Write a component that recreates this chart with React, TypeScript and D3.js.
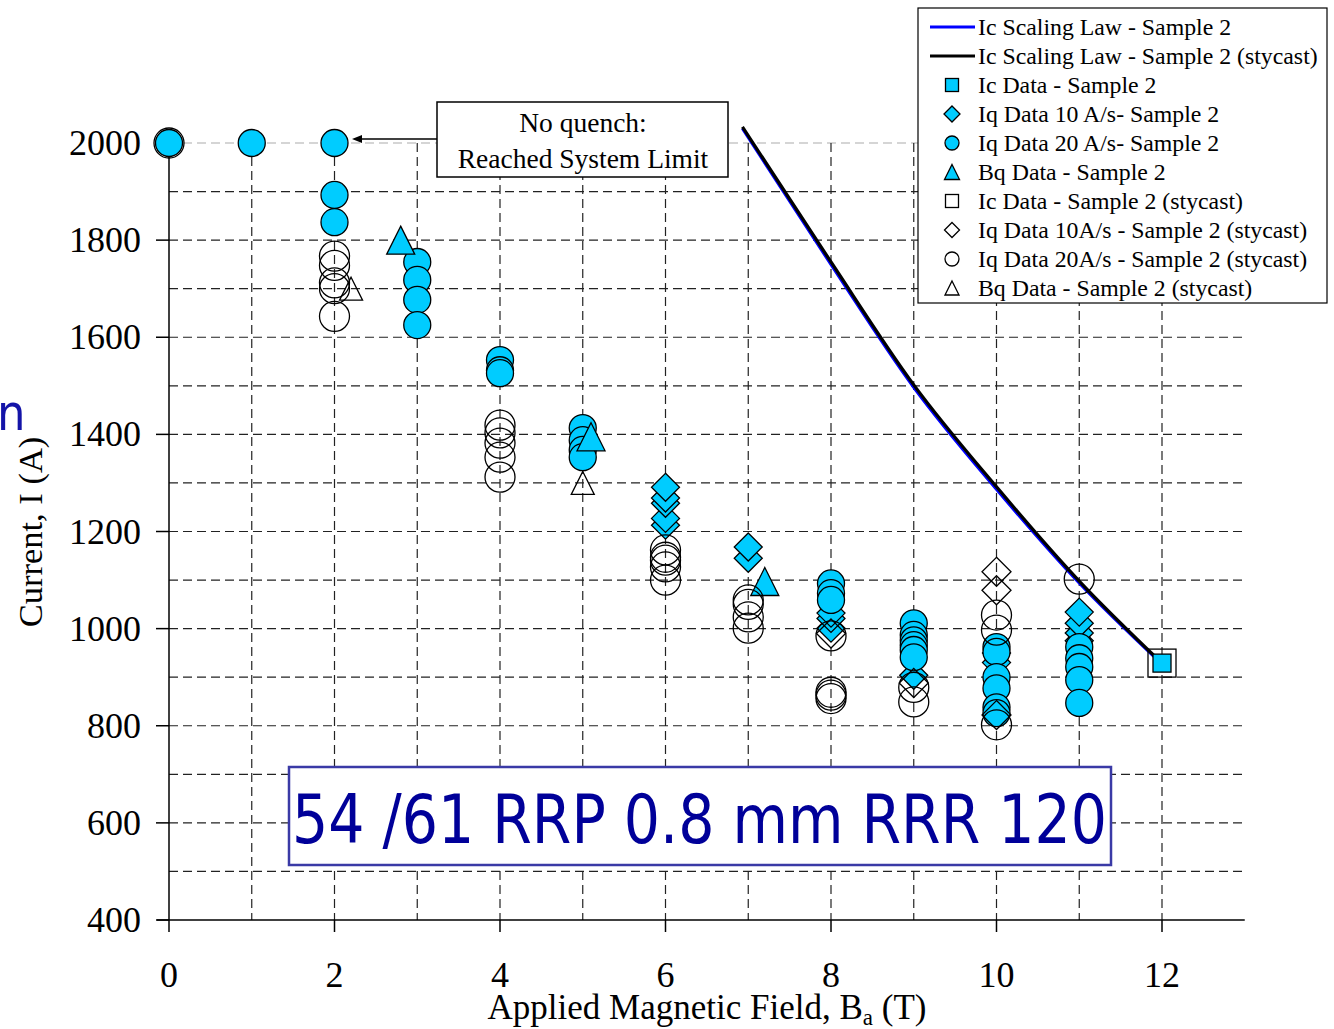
import React from "react";
import * as d3 from "d3";

const W = 1334;
const H = 1029;

// Scaling law curves
const lawB = [6.93, 8, 9, 10, 11, 12];
const lawBlue = [2030, 1750, 1497, 1287, 1094, 927];
const lawBlack = [2033, 1755, 1502, 1292, 1098, 929];

// Ic Data - Sample 2 (cyan square)
const icB = [12];
const icI = [929];

// Iq Data 10 A/s - Sample 2 (cyan diamonds)
const iq10B = [6, 6, 6, 6, 6, 7, 7, 8, 8, 8, 9, 10, 10, 11, 11, 11, 11];
const iq10I = [1213, 1227, 1258, 1269, 1291, 1145, 1168, 1001, 1021, 1032, 904, 930, 950, 975, 991, 1011, 1034];

// Iq Data 20 A/s - Sample 2 (cyan circles)
const iq20B = [0, 1, 2, 2, 2, 3, 3, 3, 3, 4, 4, 4, 5, 5, 5, 5, 8, 8, 8, 9, 9, 9, 9, 9, 9, 10, 10, 10, 10, 10, 10, 11, 11, 11, 11, 11];
const iq20I = [2000, 2000, 2000, 1893, 1837, 1755, 1718, 1677, 1625, 1553, 1532, 1526, 1413, 1388, 1368, 1353, 1093, 1073, 1059, 1011, 987, 976, 966, 956, 941, 962, 952, 900, 877, 838, 826, 962, 939, 921, 894, 847];

// Bq Data - Sample 2 (cyan triangles)
const bqB = [2.8, 5.1, 7.2];
const bqI = [1800, 1395, 1097];

// stycast series (open markers)
const sIcB = [12];
const sIcI = [929];
const sIq10B = [8, 9, 10, 10, 10];
const sIq10I = [990, 888, 1117, 1079, 822];
const sIq20B = [0, 2, 2, 2, 2, 2, 4, 4, 4, 4, 4, 6, 6, 6, 6, 6, 7, 7, 7, 7, 8, 8, 8, 8, 9, 9, 10, 10, 10, 11];
const sIq20I = [2000, 1767, 1748, 1712, 1700, 1643, 1419, 1403, 1382, 1353, 1312, 1162, 1147, 1141, 1127, 1100, 1059, 1050, 1024, 1001, 985, 869, 863, 856, 879, 849, 1028, 997, 802, 1102];
const sBqB = [2.2, 5];
const sBqI = [1700, 1300];

const xTicks = [0, 2, 4, 6, 8, 10, 12];
const yTicks = [400, 600, 800, 1000, 1200, 1400, 1600, 1800, 2000];
const xGrid = [1, 2, 3, 4, 5, 6, 7, 8, 9, 10, 11, 12];
const yGrid = [500, 600, 700, 800, 900, 1000, 1100, 1200, 1300, 1400, 1500, 1600, 1700, 1800, 1900];

const legendLabels = [
  "Ic Scaling Law - Sample 2",
  "Ic Scaling Law - Sample 2 (stycast)",
  "Ic Data - Sample 2",
  "Iq Data 10 A/s- Sample 2",
  "Iq Data 20 A/s- Sample 2",
  "Bq Data - Sample 2",
  "Ic Data - Sample 2 (stycast)",
  "Iq Data 10A/s - Sample 2 (stycast)",
  "Iq Data 20A/s - Sample 2 (stycast)",
  "Bq Data - Sample 2 (stycast)",
];

const CYAN = "#00CCFF";
const SERIF = "'Liberation Serif', 'Times New Roman', serif";

const x = d3.scaleLinear().domain([0, 13]).range([169, 1244.75]);
const y = d3.scaleLinear().domain([400, 2000]).range([920, 143]);

type Shape = "circle" | "diamond" | "triangle" | "square";

function Marker({ cx, cy, shape, size, fill }: { cx: number; cy: number; shape: Shape; size: number; fill: string }) {
  const stroke = "#000";
  const sw = 1.3;
  if (shape === "circle") return <circle cx={cx} cy={cy} r={size} fill={fill} stroke={stroke} strokeWidth={sw} />;
  if (shape === "square")
    return <rect x={cx - size} y={cy - size} width={size * 2} height={size * 2} fill={fill} stroke={stroke} strokeWidth={sw} />;
  if (shape === "diamond") {
    const p = [[cx, cy - size], [cx + size, cy], [cx, cy + size], [cx - size, cy]];
    return <polygon points={p.map((q) => q.join(",")).join(" ")} fill={fill} stroke={stroke} strokeWidth={sw} />;
  }
  const p = [[cx, cy - size], [cx + size, cy + size], [cx - size, cy + size]];
  return <polygon points={p.map((q) => q.join(",")).join(" ")} fill={fill} stroke={stroke} strokeWidth={sw} />;
}

function Series({ bs, is, shape, size, fill }: { bs: number[]; is: number[]; shape: Shape; size: number; fill: string }) {
  return (
    <g>
      {bs.map((b, i) => (
        <Marker key={i} cx={x(b)} cy={y(is[i])} shape={shape} size={size} fill={fill} />
      ))}
    </g>
  );
}

export default function App() {
  const line = d3
    .line<number>()
    .x((_, i) => x(lawB[i]))
    .y((d) => y(d))
    .curve(d3.curveMonotoneX);

  const legendY = (i: number) => 27 + i * 29.0;
  const legendMarkers: { shape: Shape; size: number; fill: string }[] = [
    { shape: "square", size: 6.5, fill: CYAN },
    { shape: "diamond", size: 8, fill: CYAN },
    { shape: "circle", size: 7, fill: CYAN },
    { shape: "triangle", size: 7.5, fill: CYAN },
    { shape: "square", size: 6.5, fill: "none" },
    { shape: "diamond", size: 7.5, fill: "none" },
    { shape: "circle", size: 7, fill: "none" },
    { shape: "triangle", size: 7, fill: "none" },
  ];

  return (
    <svg width={W} height={H} style={{ position: "absolute", left: 0, top: 0, background: "#fff" }} xmlns="http://www.w3.org/2000/svg">
      <rect x={0} y={0} width={W} height={H} fill="#fff" />
      {/* clipped title fragment */}
      <text x={-3} y={430} fontFamily="'DejaVu Sans Condensed', 'DejaVu Sans', sans-serif" fontSize={50} fill="#1414a8">
        n
      </text>

      {/* gridlines */}
      <g>
        {yGrid.map((v) => (
          <line key={v} x1={x(0)} x2={x(13)} y1={y(v)} y2={y(v)} stroke="#222" strokeWidth={1.2} strokeDasharray="9,5" />
        ))}
        <line x1={x(0)} x2={x(13)} y1={y(2000)} y2={y(2000)} stroke="#c8c8c8" strokeWidth={1.5} strokeDasharray="9,5" />
        {xGrid.map((v) => (
          <line key={v} x1={x(v)} x2={x(v)} y1={y(2000)} y2={y(400)} stroke="#222" strokeWidth={1.2} strokeDasharray="9,5" />
        ))}
      </g>

      {/* axes */}
      <g stroke="#000" strokeWidth={1.5}>
        <line x1={x(0)} x2={x(0)} y1={y(2000)} y2={y(400)} />
        <line x1={x(0) - 12} x2={x(13)} y1={y(400)} y2={y(400)} />
        {yTicks.map((v) => (
          <line key={v} x1={x(0) - 13} x2={x(0)} y1={y(v)} y2={y(v)} />
        ))}
        {xTicks.map((v) => (
          <line key={v} x1={x(v)} x2={x(v)} y1={y(400)} y2={y(400) + 12} />
        ))}
      </g>
      <g fontFamily={SERIF} fontSize={36} fill="#000">
        {yTicks.map((v) => (
          <text key={v} x={141} y={y(v) + 12} textAnchor="end">
            {v}
          </text>
        ))}
        {xTicks.map((v) => (
          <text key={v} x={x(v)} y={987} textAnchor="middle">
            {v}
          </text>
        ))}
      </g>
      <text x={707} y={1019} textAnchor="middle" fontFamily={SERIF} fontSize={35} fill="#000">
        Applied Magnetic Field, B<tspan fontSize={23} dy={6}>a</tspan>
        <tspan dy={-6}> (T)</tspan>
      </text>
      <text transform="translate(42,532) rotate(-90)" textAnchor="middle" fontFamily={SERIF} fontSize={34.5} fill="#000">
        Current, I (A)
      </text>

      {/* scaling law lines */}
      <path d={line(lawBlue) || ""} fill="none" stroke="#0000FF" strokeWidth={3.2} />
      <path d={line(lawBlack) || ""} fill="none" stroke="#000" strokeWidth={3.2} />

      {/* data */}
      <Series bs={icB} is={icI} shape="square" size={9} fill={CYAN} />
      <Series bs={iq10B} is={iq10I} shape="diamond" size={14} fill={CYAN} />
      <Series bs={iq20B} is={iq20I} shape="circle" size={13.5} fill={CYAN} />
      <Series bs={bqB} is={bqI} shape="triangle" size={14} fill={CYAN} />
      <Series bs={sIcB} is={sIcI} shape="square" size={14} fill="none" />
      <Series bs={sIq10B} is={sIq10I} shape="diamond" size={14.5} fill="none" />
      <Series bs={sIq20B} is={sIq20I} shape="circle" size={15} fill="none" />
      <Series bs={sBqB} is={sBqI} shape="triangle" size={11.5} fill="none" />

      {/* annotation */}
      <line x1={437} x2={358} y1={139} y2={139} stroke="#000" strokeWidth={1.5} />
      <polygon points="352,139 362,135 362,143" fill="#000" />
      <rect x={437} y={102} width={291} height={75} fill="#fff" stroke="#000" strokeWidth={1.5} />
      <text x={583} y={132} textAnchor="middle" fontFamily={SERIF} fontSize={27.5} fill="#000">
        No quench:
      </text>
      <text x={583} y={168} textAnchor="middle" fontFamily={SERIF} fontSize={27.5} fill="#000">
        Reached System Limit
      </text>

      {/* big label */}
      <rect x={289} y={767} width={822} height={98} fill="#fff" stroke="#3a3aa6" strokeWidth={2.5} />
      <text
        x={292}
        y={843}
        fontFamily="'DejaVu Sans Condensed', 'DejaVu Sans', sans-serif"
        fontSize={68}
        fill="#000099"
        textLength={815}
        lengthAdjust="spacingAndGlyphs"
      >
        54 /61 RRP 0.8 mm RRR 120
      </text>

      {/* legend */}
      <rect x={918} y={8} width={409} height={295} fill="#fff" stroke="#000" strokeWidth={1.2} />
      <line x1={930} x2={975} y1={legendY(0)} y2={legendY(0)} stroke="#0000FF" strokeWidth={3.2} />
      <line x1={930} x2={975} y1={legendY(1)} y2={legendY(1)} stroke="#000" strokeWidth={3.2} />
      {legendMarkers.map((m, i) => (
        <Marker key={i} cx={952} cy={legendY(i + 2)} shape={m.shape} size={m.size} fill={m.fill} />
      ))}
      <g fontFamily={SERIF} fontSize={23.8} fill="#000">
        {legendLabels.map((t, i) => (
          <text key={i} x={978} y={legendY(i) + 8}>
            {t}
          </text>
        ))}
      </g>
    </svg>
  );
}
